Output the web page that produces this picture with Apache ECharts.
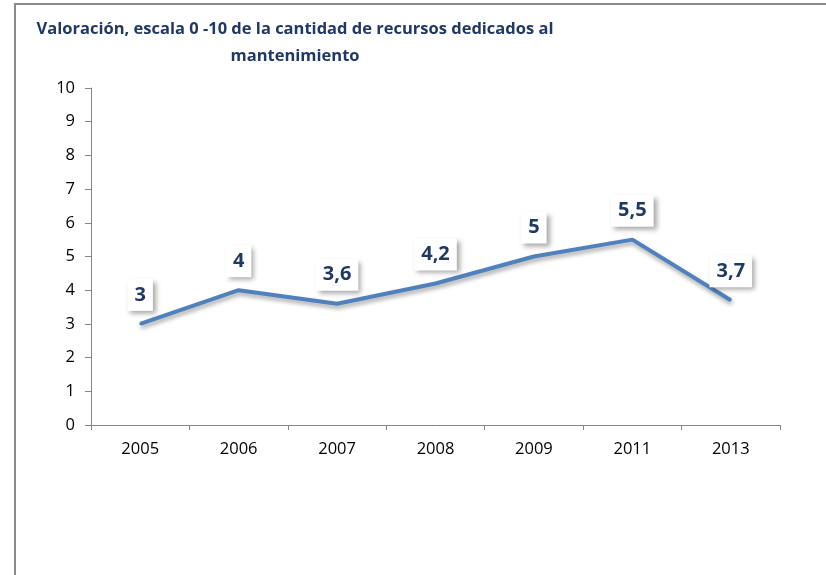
<!DOCTYPE html>
<html>
<head>
<meta charset="utf-8">
<script src="https://cdn.jsdelivr.net/npm/echarts@6/dist/echarts.min.js"></script>
<style>
html,body{margin:0;padding:0;background:#fff;}
#chart{width:826px;height:575px;}
</style>
</head>
<body>
<div id="chart"></div>
<script>
const categories = ['2005','2006','2007','2008','2009','2011','2013'];
const values = [3, 4, 3.6, 4.2, 5, 5.5, 3.7];
const yTicks = [0,1,2,3,4,5,6,7,8,9,10];
const titleText = 'Valoración, escala 0 -10 de la cantidad de recursos dedicados al\nmantenimiento';

const chart = echarts.init(document.getElementById('chart'));
const navy = '#1F3864';
chart.setOption({
  animation: false,
  backgroundColor: '#fff',
  title: {
    text: titleText,
    left: 290,
    top: 11,
    textAlign: 'center',
    textStyle: {
      fontFamily: 'Open Sans',
      fontWeight: 'bold',
      fontSize: 16.5,
      color: navy,
      lineHeight: 27
    }
  },
  graphic: [{
    type: 'polyline',
    shape: { points: [[15, 575], [15, 4], [826, 4]] },
    style: { stroke: '#8a8a8a', lineWidth: 2, fill: null },
    silent: true
  }],
  grid: { left: 91, right: 46, top: 88, bottom: 150 },
  xAxis: {
    type: 'category',
    data: categories,
    boundaryGap: true,
    axisLine: { lineStyle: { color: '#868686', width: 1 } },
    axisTick: { show: true, length: 5, alignWithLabel: false, lineStyle: { color: '#868686' } },
    axisLabel: { fontFamily: 'Open Sans', fontSize: 16.5, color: '#000', margin: 16 }
  },
  yAxis: {
    type: 'value',
    min: yTicks[0],
    max: yTicks[yTicks.length - 1],
    interval: 1,
    splitLine: { show: false },
    axisLine: { show: true, lineStyle: { color: '#868686', width: 1 } },
    axisTick: { show: true, length: 6, lineStyle: { color: '#868686' } },
    axisLabel: { fontFamily: 'Open Sans', fontSize: 16.5, color: '#000', margin: 16 }
  },
  series: [{
    type: 'line',
    data: values,
    symbol: 'circle',
    symbolSize: 2,
    showSymbol: true,
    itemStyle: { color: '#4F81BD' },
    lineStyle: {
      color: '#4F81BD',
      width: 4,
      shadowColor: 'rgba(0,0,0,0.35)',
      shadowBlur: 4,
      shadowOffsetX: 1,
      shadowOffsetY: 3
    },
    label: {
      show: true,
      position: 'top',
      distance: 12,
      formatter: p => String(p.value).replace('.', ','),
      fontFamily: 'Open Sans',
      fontWeight: 'bold',
      fontSize: 20,
      lineHeight: 20,
      color: navy,
      backgroundColor: '#fff',
      padding: [6, 7, 6, 7],
      shadowColor: 'rgba(0,0,0,0.35)',
      shadowBlur: 5,
      shadowOffsetX: 3,
      shadowOffsetY: 3
    }
  }]
});
</script>
</body>
</html>
